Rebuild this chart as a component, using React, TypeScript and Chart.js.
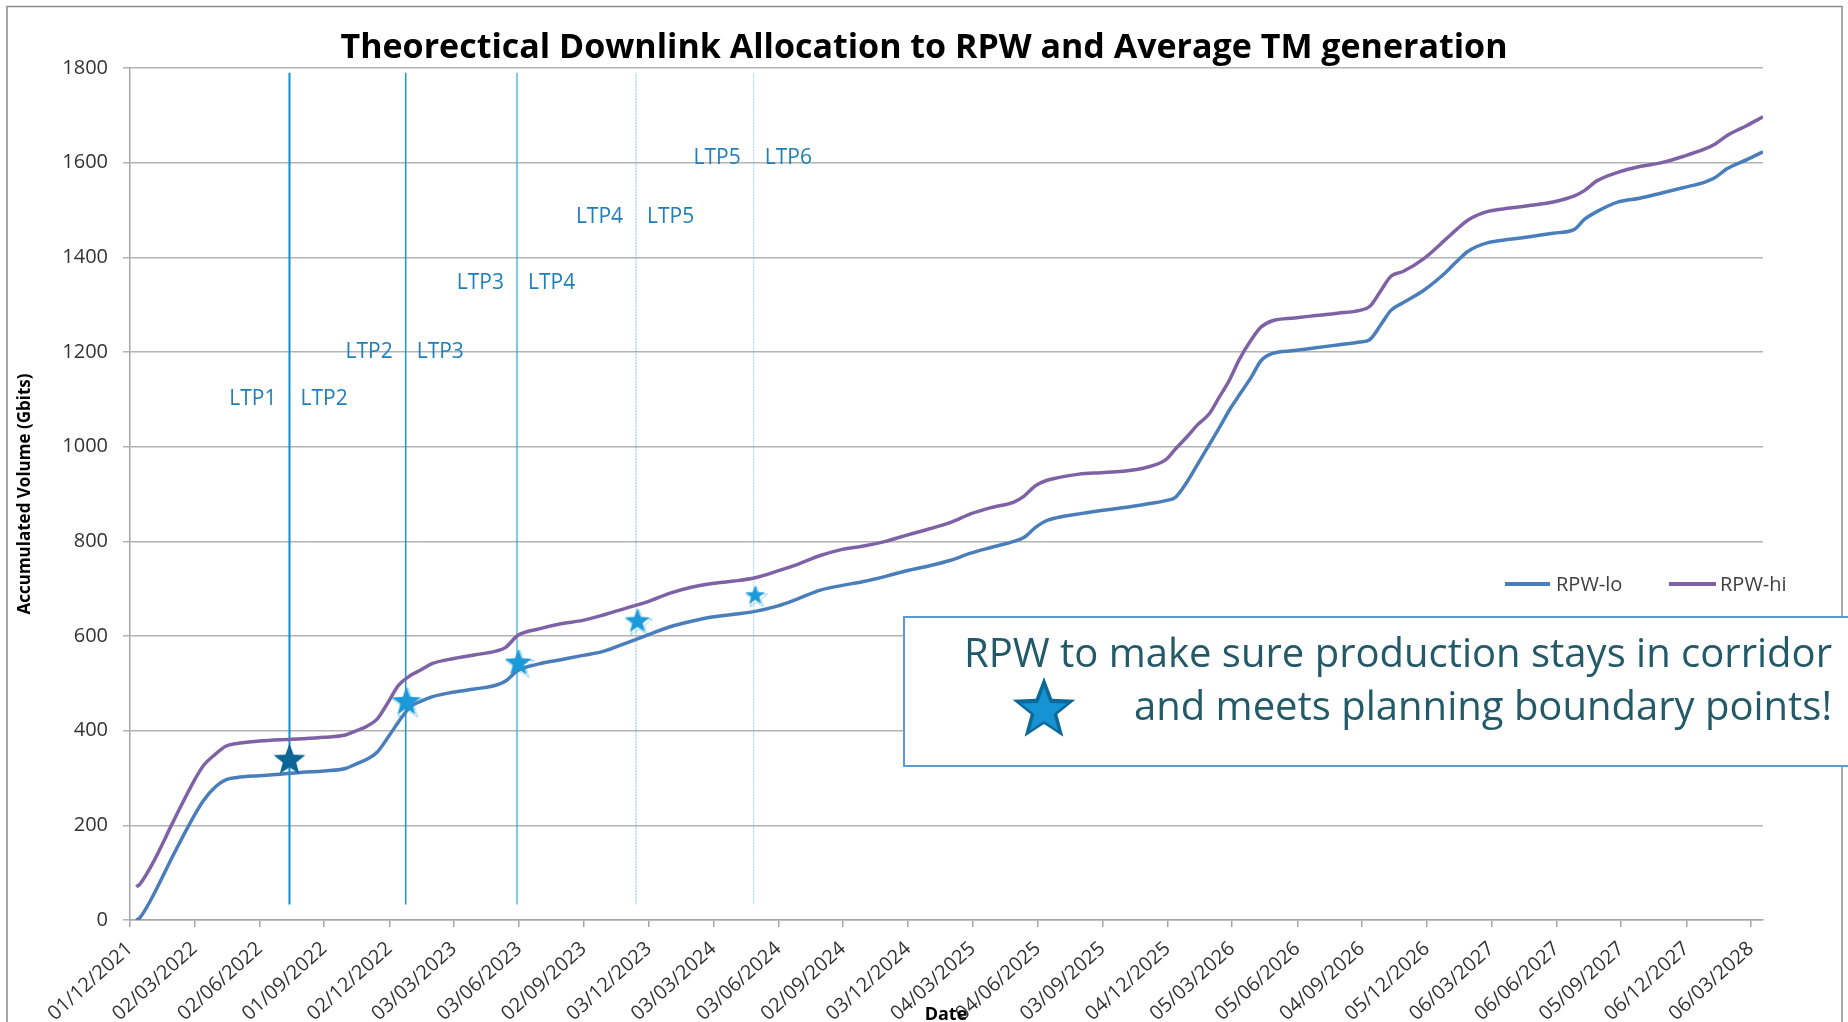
import React, { useEffect, useRef } from 'react';
import { Chart, registerables } from 'chart.js';

Chart.register(...registerables);

const chartTitle = 'Theorectical Downlink Allocation to RPW and Average TM generation';
const yAxisTitle = 'Accumulated Volume (Gbits)';
const xAxisTitle = 'Date';
const seriesNames = ['RPW-lo', 'RPW-hi'];

const tickLabels = [
  '01/12/2021', '02/03/2022', '02/06/2022', '01/09/2022', '02/12/2022', '03/03/2023',
  '03/06/2023', '02/09/2023', '03/12/2023', '03/03/2024', '03/06/2024', '02/09/2024',
  '03/12/2024', '04/03/2025', '04/06/2025', '03/09/2025', '04/12/2025', '05/03/2026',
  '05/06/2026', '04/09/2026', '05/12/2026', '06/03/2027', '06/06/2027', '05/09/2027',
  '06/12/2027', '06/03/2028',
];
const axisEndDate = '23/03/2028';

const sampleDates = [
  '10/12/2021', '15/12/2021', '01/01/2022', '01/02/2022', '01/03/2022', '15/03/2022',
  '01/04/2022', '15/04/2022', '01/05/2022', '01/06/2022', '01/07/2022', '01/08/2022',
  '01/09/2022', '01/10/2022', '15/10/2022', '01/11/2022', '15/11/2022', '01/12/2022',
  '15/12/2022', '01/01/2023', '15/01/2023', '01/02/2023', '01/03/2023', '01/04/2023',
  '01/05/2023', '15/05/2023', '01/06/2023', '01/07/2023', '01/08/2023', '01/09/2023',
  '01/10/2023', '01/11/2023', '01/12/2023', '01/01/2024', '01/02/2024', '01/03/2024',
  '01/04/2024', '01/05/2024', '01/06/2024', '01/07/2024', '01/08/2024', '01/09/2024',
  '01/10/2024', '01/11/2024', '01/12/2024', '01/01/2025', '01/02/2025', '01/03/2025',
  '01/04/2025', '01/05/2025', '15/05/2025', '01/06/2025', '15/06/2025', '01/07/2025',
  '01/08/2025', '01/09/2025', '01/10/2025', '01/11/2025', '01/12/2025', '15/12/2025',
  '01/01/2026', '15/01/2026', '01/02/2026', '15/02/2026', '01/03/2026', '15/03/2026',
  '01/04/2026', '15/04/2026', '01/05/2026', '01/06/2026', '01/07/2026', '01/08/2026',
  '01/09/2026', '15/09/2026', '01/10/2026', '15/10/2026', '01/11/2026', '01/12/2026',
  '01/01/2027', '15/01/2027', '01/02/2027', '01/03/2027', '01/04/2027', '01/05/2027',
  '01/06/2027', '01/07/2027', '15/07/2027', '01/08/2027', '01/09/2027', '01/10/2027',
  '01/11/2027', '01/12/2027', '01/01/2028', '15/01/2028', '01/02/2028', '01/03/2028',
  '23/03/2028',
];

const rpwLo = [
  0, 5, 47, 140, 219, 253,
  282, 296, 301, 305, 308, 312,
  315, 320, 329, 340, 355, 388,
  419, 451, 462, 472, 481, 488,
  496, 505, 527, 541, 550, 559,
  568, 585, 602, 619, 631, 640,
  646, 652, 663, 679, 697, 707,
  715, 726, 738, 748, 760, 775,
  788, 800, 808, 830, 843, 850,
  858, 865, 871, 878, 886, 893,
  927, 962, 1005, 1040, 1077, 1109,
  1147, 1182, 1197, 1203, 1209, 1215,
  1221, 1226, 1258, 1288, 1304, 1331,
  1369, 1390, 1413, 1431, 1438, 1444,
  1451, 1459, 1480, 1496, 1517, 1525,
  1536, 1547, 1559, 1568, 1587, 1607,
  1623,
];

const rpwHi = [
  70, 76, 117, 211, 293, 327,
  351, 367, 373, 378, 381, 383,
  386, 391, 399, 410, 425, 462,
  496, 517, 528, 542, 552, 560,
  568, 576, 601, 615, 626, 633,
  645, 659, 672, 690, 703, 711,
  716, 723, 737, 752, 770, 783,
  790, 800, 813, 826, 840, 858,
  872, 883, 895, 918, 928, 934,
  942, 945, 948, 955, 972, 995,
  1022, 1046, 1070, 1105, 1140, 1184,
  1226, 1253, 1266, 1272, 1277, 1282,
  1288, 1296, 1330, 1360, 1370, 1398,
  1439, 1458, 1479, 1497, 1504, 1510,
  1517, 1530, 1541, 1561, 1580, 1592,
  1600, 1613, 1629, 1639, 1657, 1679,
  1697,
];

const ltpDates = ['14/07/2022', '25/12/2022', '31/05/2023', '15/11/2023', '29/04/2024'];
const ltpLeftLabels = ['LTP1', 'LTP2', 'LTP3', 'LTP4', 'LTP5'];
const ltpRightLabels = ['LTP2', 'LTP3', 'LTP4', 'LTP5', 'LTP6'];
const ltpLabelValues = [1100, 1200, 1345, 1485, 1610];
const ltpLineSpan = [33, 1790];

const starDates = ['14/07/2022', '26/12/2022', '02/06/2023', '17/11/2023', '01/05/2024'];
const starValues = [340, 463, 545, 633, 687];

const noteLines = [
  'RPW to make sure production stays in corridor',
  'and meets planning boundary points!',
];

const START = Date.UTC(2021, 11, 1);
function dayOf(s: string): number {
  const [d, m, y] = s.split('/').map(Number);
  return Math.round((Date.UTC(y, m - 1, d) - START) / 86400000);
}
const tickDays = tickLabels.map(dayOf);

const FONT = '"Open Sans", "DejaVu Sans", sans-serif';

const ltpStyles = [
  { color: 'rgba(14,142,208,1)', width: 2, dash: [] as number[] },
  { color: 'rgba(22,150,214,0.95)', width: 1.6, dash: [] as number[] },
  { color: 'rgba(30,158,218,0.85)', width: 1.3, dash: [] as number[] },
  { color: 'rgba(60,170,225,0.7)', width: 1, dash: [2, 1] },
  { color: 'rgba(80,180,230,0.6)', width: 1, dash: [2, 1] },
];

function starPath(ctx: CanvasRenderingContext2D, cx: number, cy: number, R: number, r: number) {
  ctx.beginPath();
  for (let i = 0; i < 10; i++) {
    const rad = i % 2 === 0 ? R : r;
    const a = -Math.PI / 2 + (i * Math.PI) / 5;
    const px = cx + rad * Math.cos(a);
    const py = cy + rad * Math.sin(a);
    if (i === 0) ctx.moveTo(px, py);
    else ctx.lineTo(px, py);
  }
  ctx.closePath();
}

function makeStarImage(size: number, fill: string, fuzzy: boolean) {
  const c = document.createElement('canvas');
  const pad = 4;
  c.width = size + pad * 2;
  c.height = size + pad * 2;
  const ctx = c.getContext('2d')!;
  const R = size / 1.85;
  const cx = c.width / 2;
  const cy = pad + R;
  if (fuzzy) {
    ctx.globalAlpha = 0.45;
    starPath(ctx, cx + 1.5, cy + 2, R * 1.08, R * 0.45);
    ctx.strokeStyle = fill;
    ctx.lineWidth = 1;
    ctx.stroke();
    ctx.globalAlpha = 1;
  }
  starPath(ctx, cx, cy, R, R * 0.42);
  ctx.fillStyle = fill;
  ctx.fill();
  return c;
}

const frameAndTextPlugin = {
  id: 'frameAndText',
  beforeDraw(chart: any) {
    const ctx = chart.ctx as CanvasRenderingContext2D;
    ctx.save();
    ctx.fillStyle = '#ffffff';
    ctx.fillRect(0, 0, chart.width, chart.height);
    ctx.strokeStyle = '#8c8c8c';
    ctx.lineWidth = 1.5;
    ctx.strokeRect(7, 6.5, 1835, 1100);
    ctx.restore();
  },
  afterDatasetsDraw(chart: any) {
    const ctx = chart.ctx as CanvasRenderingContext2D;
    const xs = chart.scales.x;
    const ys = chart.scales.y;
    ctx.save();
    ctx.font = `21px ${FONT}`;
    ctx.fillStyle = '#1f7fba';
    ctx.textBaseline = 'middle';
    ltpDates.forEach((d, i) => {
      const x = xs.getPixelForValue(dayOf(d));
      const y = ys.getPixelForValue(ltpLabelValues[i]);
      ctx.textAlign = 'right';
      ctx.fillText(ltpLeftLabels[i], x - 13, y);
      ctx.textAlign = 'left';
      ctx.fillText(ltpRightLabels[i], x + 11, y);
    });
    ctx.restore();
  },
  afterDraw(chart: any) {
    const ctx = chart.ctx as CanvasRenderingContext2D;
    const area = chart.chartArea;
    ctx.save();
    // title
    ctx.fillStyle = '#000000';
    ctx.font = `bold 34px ${FONT}`;
    ctx.textAlign = 'center';
    ctx.textBaseline = 'alphabetic';
    ctx.fillText(chartTitle, chart.width / 2, 58);
    // y axis title
    ctx.save();
    ctx.translate(25, (area.top + area.bottom) / 2);
    ctx.rotate(-Math.PI / 2);
    ctx.font = `bold 17px ${FONT}`;
    ctx.textBaseline = 'middle';
    ctx.fillText(yAxisTitle, 0, 0);
    ctx.restore();
    // x axis title
    ctx.font = `bold 18px ${FONT}`;
    ctx.textAlign = 'center';
    ctx.fillText(xAxisTitle, 946, 1020);

    // legend
    const ds = chart.data.datasets;
    const legendItems = [
      { x0: 1505, x1: 1550, tx: 1556 },
      { x0: 1669, x1: 1716, tx: 1720 },
    ];
    legendItems.forEach((it, i) => {
      ctx.strokeStyle = ds[i].borderColor;
      ctx.lineWidth = 4;
      ctx.beginPath();
      ctx.moveTo(it.x0, 584);
      ctx.lineTo(it.x1, 584);
      ctx.stroke();
      ctx.fillStyle = '#404040';
      ctx.font = `20px ${FONT}`;
      ctx.textAlign = 'left';
      ctx.textBaseline = 'middle';
      ctx.fillText(ds[i].label, it.tx, 585);
    });

    // note box
    ctx.fillStyle = '#ffffff';
    ctx.fillRect(904, 617, 1000, 149);
    ctx.strokeStyle = '#5b9bd5';
    ctx.lineWidth = 2;
    ctx.strokeRect(904, 617, 1000, 149);
    ctx.fillStyle = '#235a6a';
    ctx.font = `40px ${FONT}`;
    ctx.textAlign = 'right';
    ctx.textBaseline = 'alphabetic';
    ctx.fillText(noteLines[0], 1832, 667);
    ctx.fillText(noteLines[1], 1832, 720);
    starPath(ctx, 1044, 710, 33, 14);
    ctx.fillStyle = '#0b6a9a';
    ctx.fill();
    starPath(ctx, 1044, 711, 24, 10);
    ctx.fillStyle = '#1693d2';
    ctx.fill();
    ctx.restore();
  },
};

export default function App() {
  const canvasRef = useRef<HTMLCanvasElement | null>(null);

  useEffect(() => {
    const canvas = canvasRef.current;
    if (!canvas) return;
    const loData = sampleDates.map((d, i) => ({ x: dayOf(d), y: rpwLo[i] }));
    const hiData = sampleDates.map((d, i) => ({ x: dayOf(d), y: rpwHi[i] }));

    const starImages = [
      makeStarImage(31, '#0b6596', false),
      makeStarImage(28, '#1a9ad8', true),
      makeStarImage(26, '#1a9ad8', true),
      makeStarImage(24, '#1a9ad8', true),
      makeStarImage(19, '#1a9ad8', true),
    ];

    const ltpDatasets = ltpDates.map((d, i) => ({
      type: 'line' as const,
      label: `ltp${i}`,
      data: [
        { x: dayOf(d), y: ltpLineSpan[0] },
        { x: dayOf(d), y: ltpLineSpan[1] },
      ],
      borderColor: ltpStyles[i].color,
      borderWidth: ltpStyles[i].width,
      borderDash: ltpStyles[i].dash,
      pointRadius: 0,
      order: 5,
    }));

    const chart = new Chart(canvas, {
      type: 'line',
      data: {
        datasets: [
          {
            label: seriesNames[0],
            data: loData,
            borderColor: '#4a7ebb',
            borderWidth: 3.5,
            pointRadius: 0,
            cubicInterpolationMode: 'monotone',
            order: 3,
          },
          {
            label: seriesNames[1],
            data: hiData,
            borderColor: '#7f62a6',
            borderWidth: 3.5,
            pointRadius: 0,
            cubicInterpolationMode: 'monotone',
            order: 3,
          },
          ...ltpDatasets,
          {
            type: 'scatter' as const,
            label: 'stars',
            data: starDates.map((d, i) => ({ x: dayOf(d), y: starValues[i] })),
            pointStyle: starImages as any,
            showLine: false,
            order: 1,
          },
        ] as any,
      },
      options: {
        animation: false,
        responsive: false,
        devicePixelRatio: 1,
        layout: { padding: { top: 68, right: 85, bottom: 0, left: 0 } },
        plugins: {
          legend: { display: false },
          title: { display: false },
          tooltip: { enabled: false },
        },
        scales: {
          x: {
            type: 'linear',
            min: 0,
            max: dayOf(axisEndDate),
            afterBuildTicks: (scale: any) => {
              scale.ticks = tickDays.map((v) => ({ value: v }));
            },
            afterFit: (scale: any) => {
              scale.height = 102;
            },
            ticks: {
              autoSkip: false,
              maxRotation: 42,
              minRotation: 42,
              padding: 10,
              color: '#333333',
              font: { family: FONT, size: 20 },
              callback: (_v: any, index: number) => tickLabels[index],
            },
            grid: {
              drawOnChartArea: false,
              drawTicks: true,
              tickLength: 7,
              color: '#a6a6a6',
              lineWidth: 1.5,
            },
            border: { color: '#a6a6a6', width: 1.5 },
          },
          y: {
            min: 0,
            max: 1800,
            afterFit: (scale: any) => {
              scale.width = 130;
            },
            ticks: {
              stepSize: 200,
              padding: 15,
              color: '#333333',
              font: { family: FONT, size: 20 },
              callback: (v: any) => String(v),
            },
            grid: {
              color: '#b3b3b3',
              lineWidth: 1.5,
              tickLength: 7,
            },
            border: { color: '#a6a6a6', width: 1.5 },
          },
        },
      } as any,
      plugins: [frameAndTextPlugin],
    });

    return () => {
      chart.destroy();
    };
  }, []);

  return (
    <div style={{ position: 'absolute', left: 0, top: 0, width: 1848, height: 1022 }}>
      <canvas ref={canvasRef} width={1848} height={1022} />
    </div>
  );
}
